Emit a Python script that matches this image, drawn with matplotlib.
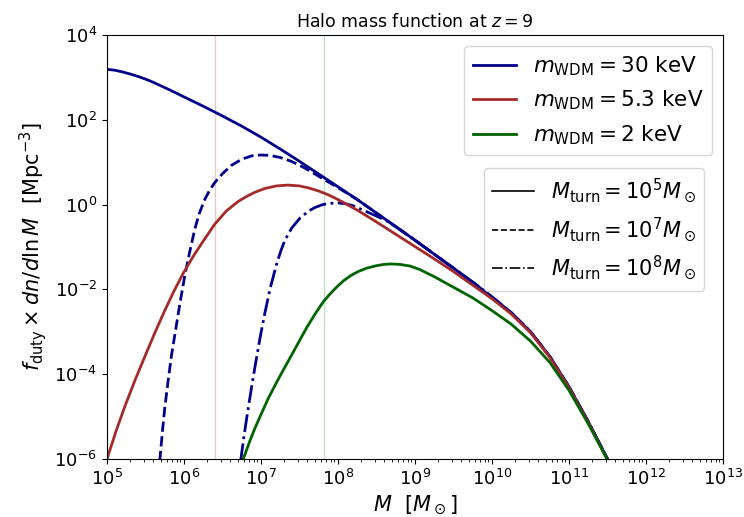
import matplotlib
matplotlib.use("Agg")
import matplotlib.pyplot as plt
import numpy as np
from matplotlib.lines import Line2D
from matplotlib.ticker import LogLocator, NullLocator

# log10 of halo mass [M_sun] and log10 of f_duty * dn/dlnM [Mpc^-3]
logm_30 = [5.0, 5.1, 5.2, 5.3, 5.4, 5.5, 5.6, 5.75, 5.9, 6.0, 6.25, 6.5, 6.75, 7.0, 7.25, 7.5,
           7.75, 8.0, 8.25, 8.5, 8.75, 9.0, 9.25, 9.5, 9.75, 10.0, 10.25, 10.5, 10.75, 11.0,
           11.25, 11.5, 11.6]
logn_30 = [3.19, 3.17, 3.13, 3.08, 3.025, 2.96, 2.885, 2.76, 2.63, 2.54, 2.32, 2.09, 1.85, 1.59,
           1.31, 1.02, 0.72, 0.42, 0.12, -0.20, -0.52, -0.84, -1.17, -1.50, -1.83, -2.18, -2.55,
           -3.00, -3.58, -4.30, -5.12, -6.0, -6.4]

logm_30_t7 = [5.685, 5.72, 5.75, 5.8, 5.84, 5.9, 5.95, 6.01, 6.07, 6.14, 6.2, 6.27, 6.33, 6.4,
              6.5, 6.62, 6.75, 6.88, 7.0, 7.12, 7.25, 7.38, 7.51, 7.62, 7.72, 7.85, 8.0, 8.25,
              8.5, 8.75, 9.0, 9.25, 9.5, 9.75, 10.0, 10.25, 10.5, 10.75, 11.0, 11.25, 11.5, 11.6]
logn_30_t7 = [-6.05, -5.35, -4.80, -4.07, -3.53, -2.86, -2.30, -1.68, -1.15, -0.58, -0.20, 0.12,
              0.33, 0.52, 0.73, 0.93, 1.07, 1.15, 1.17, 1.16, 1.11, 1.03, 0.92, 0.81, 0.70, 0.56,
              0.40, 0.12, -0.20, -0.52, -0.84, -1.17, -1.50, -1.83, -2.18, -2.55, -3.00, -3.58,
              -4.30, -5.12, -6.0, -6.4]

logm_30_t8 = [6.735, 6.78, 6.83, 6.88, 6.93, 6.99, 7.05, 7.12, 7.2, 7.26, 7.31, 7.4, 7.51, 7.62,
              7.7, 7.8, 7.9, 8.0, 8.1, 8.2, 8.3, 8.4, 8.5, 8.63, 8.75, 9.0, 9.25, 9.5, 9.75,
              10.0, 10.25, 10.5, 10.75, 11.0, 11.25, 11.5, 11.6]
logn_30_t8 = [-6.05, -5.45, -4.85, -4.28, -3.74, -3.12, -2.56, -1.97, -1.42, -1.08, -0.84, -0.55,
              -0.31, -0.15, -0.07, 0.0, 0.03, 0.04, 0.02, -0.03, -0.11, -0.19, -0.27, -0.38,
              -0.52, -0.84, -1.17, -1.50, -1.83, -2.18, -2.55, -3.00, -3.58, -4.30, -5.12,
              -6.0, -6.4]

logm_53 = [5.0, 5.12, 5.23, 5.36, 5.49, 5.62, 5.75, 5.87, 5.99, 6.12, 6.25, 6.4, 6.55, 6.7,
           6.82, 6.92, 7.05, 7.2, 7.35, 7.5, 7.625, 7.75, 7.875, 8.0, 8.25, 8.5, 8.75, 9.0,
           9.25, 9.5, 9.75, 10.0, 10.25, 10.5, 10.75, 11.0, 11.25, 11.5, 11.6]
logn_53 = [-6.0, -5.33, -4.77, -4.16, -3.59, -3.03, -2.50, -2.04, -1.62, -1.22, -0.86, -0.46,
           -0.15, 0.07, 0.20, 0.29, 0.38, 0.44, 0.46, 0.44, 0.39, 0.32, 0.23, 0.12, -0.13, -0.41,
           -0.70, -0.99, -1.28, -1.58, -1.90, -2.22, -2.58, -3.02, -3.60, -4.32, -5.14, -6.02, -6.4]

logm_2 = [6.77, 6.85, 6.92, 7.0, 7.095, 7.2, 7.29, 7.4, 7.506, 7.6, 7.72, 7.81, 7.9, 7.98,
          8.07, 8.16, 8.26, 8.37, 8.5, 8.6, 8.68, 8.8, 8.94, 9.06, 9.25, 9.5, 9.75, 10.0,
          10.25, 10.5, 10.75, 11.0, 11.25, 11.5, 11.6]
logn_2 = [-6.0, -5.60, -5.28, -4.95, -4.57, -4.20, -3.90, -3.54, -3.19, -2.88, -2.53, -2.29,
          -2.10, -1.95, -1.80, -1.68, -1.58, -1.50, -1.44, -1.41, -1.40, -1.41, -1.45, -1.53,
          -1.70, -1.95, -2.20, -2.50, -2.82, -3.22, -3.72, -4.38, -5.17, -6.02, -6.4]

m_vlines = [2.5e6, 6.5e7]
vline_colors = ["brown", "green"]

fig = plt.figure(figsize=(7.44, 5.17), dpi=100)
ax = fig.add_axes([0.1438, 0.1122, 0.8280, 0.8201])


def plot_curve(lm, ln, **kw):
    ax.plot(10 ** np.array(lm), 10 ** np.array(ln), lw=2, **kw)


for xv, c in zip(m_vlines, vline_colors):
    ax.axvline(xv, color=c, alpha=0.25, lw=1)

plot_curve(logm_30, logn_30, color="darkblue", ls="-")
plot_curve(logm_30_t7, logn_30_t7, color="darkblue", ls="--")
plot_curve(logm_30_t8, logn_30_t8, color="darkblue", ls="-.")
plot_curve(logm_53, logn_53, color="brown", ls="-")
plot_curve(logm_2, logn_2, color="darkgreen", ls="-")

ax.set_xscale("log")
ax.set_yscale("log")
ax.set_xlim(1e5, 1e13)
ax.set_ylim(1e-6, 1e4)
ax.xaxis.set_major_locator(LogLocator(base=10, numticks=20))
ax.xaxis.set_minor_locator(LogLocator(base=10, subs=np.arange(2, 10), numticks=20))
ax.yaxis.set_major_locator(LogLocator(base=100, numticks=20))
ax.yaxis.set_minor_locator(NullLocator())
ax.tick_params(labelsize=13)

ax.set_xlabel(r"$M\ \ [M_\odot]$", fontsize=15)
ax.set_ylabel(r"$f_{\rm duty} \times dn/d\ln M\ \ [{\rm Mpc}^{-3}]$", fontsize=15)
ax.set_title(r"Halo mass function at $z = 9$", fontsize=12.5)

wdm_handles = [
    Line2D([], [], color="darkblue", lw=2),
    Line2D([], [], color="brown", lw=2),
    Line2D([], [], color="darkgreen", lw=2),
]
wdm_labels = [r"$m_{\rm WDM} = 30$ keV", r"$m_{\rm WDM} = 5.3$ keV", r"$m_{\rm WDM} = 2$ keV"]
leg1 = ax.legend(wdm_handles, wdm_labels, loc="upper right", fontsize=15.5)
ax.add_artist(leg1)

turn_handles = [
    Line2D([], [], color="black", lw=1.2, ls="-"),
    Line2D([], [], color="black", lw=1.2, ls="--"),
    Line2D([], [], color="black", lw=1.2, ls="-."),
]
turn_labels = [r"$M_{\rm turn} = 10^5 M_\odot$", r"$M_{\rm turn} = 10^7 M_\odot$",
               r"$M_{\rm turn} = 10^8 M_\odot$"]
ax.legend(turn_handles, turn_labels, loc="upper right", fontsize=15,
          bbox_to_anchor=(0.969, 0.686), borderaxespad=0)

fig.savefig("out.png", dpi=100)
